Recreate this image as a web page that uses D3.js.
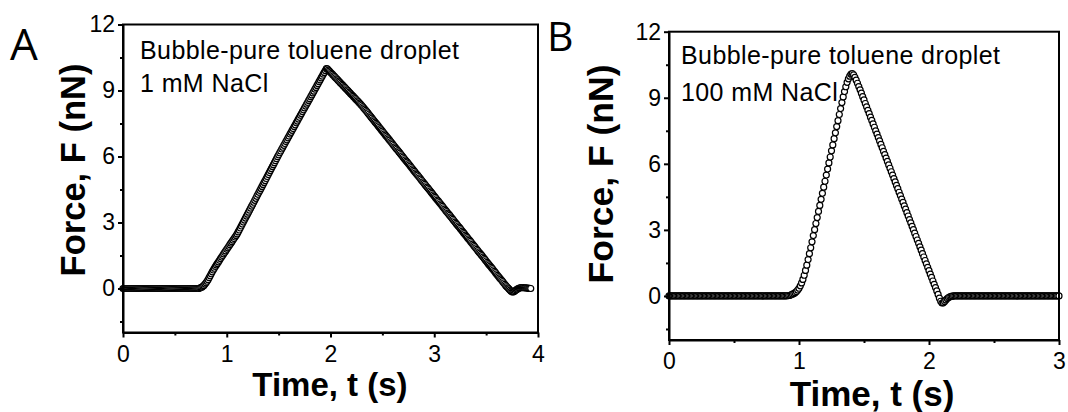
<!DOCTYPE html>
<html>
<head>
<meta charset="utf-8">
<script src="https://cdnjs.cloudflare.com/ajax/libs/d3/7.8.5/d3.min.js"></script>
<style>
    body { margin: 0; background: #fff; }
    svg { display: block; font-family: "Liberation Sans", Arial, sans-serif; }
</style>
</head>
<body>
<div id="chart"></div>
<script>
// force curves, one value per sample (sampling interval 0.01 s)
const sampleStep = 0.01;

const forceA = [
    0, 0, 0, 0, 0, 0, 0, 0, 0, 0,
    0, 0, 0, 0, 0, 0, 0, 0, 0, 0,
    0, 0, 0, 0, 0, 0, 0, 0, 0, 0,
    0, 0, 0, 0, 0, 0, 0, 0, 0, 0,
    0, 0, 0, 0, 0, 0, 0, 0, 0, 0,
    0, 0, 0, 0, 0, 0, 0, 0, 0, 0,
    0, 0, 0, 0, 0, 0, 0, 0, 0, 0,
    0, 0, 0, 0, 0.02, 0.04, 0.06, 0.10, 0.14, 0.20,
    0.26, 0.33, 0.40, 0.49, 0.58, 0.67, 0.76, 0.84, 0.92, 1.00,
    1.07, 1.14, 1.21, 1.28, 1.36, 1.43, 1.50, 1.57, 1.64, 1.71,
    1.78, 1.85, 1.92, 1.99, 2.06, 2.13, 2.20, 2.27, 2.34, 2.41,
    2.48, 2.57, 2.66, 2.75, 2.84, 2.93, 3.02, 3.11, 3.20, 3.29,
    3.38, 3.47, 3.56, 3.65, 3.74, 3.83, 3.92, 4.01, 4.10, 4.19,
    4.28, 4.37, 4.46, 4.55, 4.64, 4.73, 4.82, 4.91, 5.00, 5.09,
    5.18, 5.27, 5.36, 5.45, 5.54, 5.63, 5.72, 5.81, 5.90, 5.99,
    6.08, 6.17, 6.25, 6.34, 6.42, 6.51, 6.59, 6.68, 6.76, 6.85,
    6.93, 7.02, 7.10, 7.19, 7.27, 7.36, 7.44, 7.53, 7.61, 7.70,
    7.78, 7.87, 7.95, 8.04, 8.12, 8.21, 8.29, 8.38, 8.46, 8.55,
    8.63, 8.72, 8.80, 8.89, 8.97, 9.06, 9.14, 9.23, 9.31, 9.40,
    9.48, 9.57, 9.65, 9.74, 9.82, 9.91, 9.99, 9.98, 9.93, 9.88,
    9.83, 9.78, 9.73, 9.68, 9.63, 9.58, 9.53, 9.48, 9.43, 9.38,
    9.33, 9.28, 9.23, 9.18, 9.13, 9.08, 9.03, 8.98, 8.93, 8.88,
    8.83, 8.78, 8.73, 8.68, 8.63, 8.58, 8.53, 8.48, 8.43, 8.38,
    8.33, 8.27, 8.21, 8.15, 8.10, 8.04, 7.98, 7.92, 7.86, 7.80,
    7.74, 7.68, 7.62, 7.56, 7.51, 7.45, 7.39, 7.33, 7.27, 7.21,
    7.15, 7.09, 7.03, 6.97, 6.92, 6.86, 6.80, 6.74, 6.68, 6.62,
    6.56, 6.50, 6.44, 6.38, 6.33, 6.27, 6.21, 6.15, 6.09, 6.03,
    5.97, 5.91, 5.85, 5.79, 5.74, 5.68, 5.62, 5.56, 5.50, 5.44,
    5.38, 5.32, 5.26, 5.20, 5.15, 5.09, 5.03, 4.97, 4.91, 4.85,
    4.79, 4.73, 4.67, 4.61, 4.56, 4.50, 4.44, 4.38, 4.32, 4.26,
    4.20, 4.14, 4.08, 4.02, 3.97, 3.91, 3.85, 3.79, 3.73, 3.67,
    3.61, 3.55, 3.49, 3.43, 3.38, 3.32, 3.26, 3.20, 3.14, 3.08,
    3.02, 2.96, 2.90, 2.84, 2.79, 2.73, 2.67, 2.61, 2.55, 2.49,
    2.43, 2.37, 2.31, 2.25, 2.20, 2.14, 2.08, 2.02, 1.96, 1.90,
    1.84, 1.78, 1.72, 1.66, 1.61, 1.55, 1.49, 1.43, 1.37, 1.31,
    1.25, 1.19, 1.13, 1.07, 1.02, 0.96, 0.90, 0.84, 0.78, 0.72,
    0.66, 0.60, 0.54, 0.48, 0.43, 0.37, 0.31, 0.25, 0.19, 0.13,
    0.08, 0.03, -0.02, -0.07, -0.12, -0.15, -0.16, -0.14, -0.10, -0.06,
    -0.03, 0.00, 0.02, 0.03, 0.04, 0.04, 0.04, 0.03, 0.03, 0.02,
    0.02, 0.01, 0.01, 0.00
];

const forceB = [
    0, 0, 0, 0, 0, 0, 0, 0, 0, 0,
    0, 0, 0, 0, 0, 0, 0, 0, 0, 0,
    0, 0, 0, 0, 0, 0, 0, 0, 0, 0,
    0, 0, 0, 0, 0, 0, 0, 0, 0, 0,
    0, 0, 0, 0, 0, 0, 0, 0, 0, 0,
    0, 0, 0, 0, 0, 0, 0, 0, 0, 0,
    0, 0, 0, 0, 0, 0, 0, 0, 0, 0,
    0, 0, 0, 0, 0, 0, 0, 0, 0, 0,
    0, 0, 0, 0, 0, 0, 0, 0, 0, 0,
    0, 0.01, 0.02, 0.03, 0.05, 0.08, 0.11, 0.15, 0.20, 0.27,
    0.35, 0.46, 0.59, 0.75, 0.94, 1.16, 1.40, 1.65, 1.92, 2.19,
    2.46, 2.74, 3.01, 3.29, 3.56, 3.84, 4.11, 4.39, 4.66, 4.94,
    5.21, 5.49, 5.76, 6.04, 6.31, 6.59, 6.86, 7.14, 7.41, 7.69,
    7.96, 8.24, 8.51, 8.78, 9.04, 9.28, 9.50, 9.70, 9.86, 9.98,
    10.07, 10.10, 10.04, 9.93, 9.80, 9.66, 9.51, 9.36, 9.21, 9.05,
    8.90, 8.74, 8.59, 8.43, 8.28, 8.12, 7.97, 7.81, 7.66, 7.50,
    7.35, 7.19, 7.04, 6.88, 6.73, 6.57, 6.42, 6.26, 6.11, 5.95,
    5.80, 5.64, 5.49, 5.33, 5.18, 5.02, 4.87, 4.71, 4.56, 4.40,
    4.25, 4.09, 3.94, 3.78, 3.63, 3.47, 3.32, 3.16, 3.01, 2.85,
    2.70, 2.54, 2.39, 2.23, 2.08, 1.92, 1.77, 1.61, 1.46, 1.30,
    1.15, 0.99, 0.84, 0.68, 0.53, 0.38, 0.23, 0.07, -0.10, -0.24,
    -0.32, -0.31, -0.25, -0.18, -0.12, -0.07, -0.04, -0.02, -0.01, 0,
    0, 0, 0, 0, 0, 0, 0, 0, 0, 0,
    0, 0, 0, 0, 0, 0, 0, 0, 0, 0,
    0, 0, 0, 0, 0, 0, 0, 0, 0, 0,
    0, 0, 0, 0, 0, 0, 0, 0, 0, 0,
    0, 0, 0, 0, 0, 0, 0, 0, 0, 0,
    0, 0, 0, 0, 0, 0, 0, 0, 0, 0,
    0, 0, 0, 0, 0, 0, 0, 0, 0, 0,
    0, 0, 0, 0, 0, 0, 0, 0, 0, 0,
    0
];

const yTicks = [0, 3, 6, 9, 12];
const yMinorTicks = [-1.5, 1.5, 4.5, 7.5, 10.5];
const xTicksA = [0, 1, 2, 3, 4];
const xMinorTicksA = [0.5, 1.5, 2.5, 3.5];
const xTicksB = [0, 1, 2, 3];
const xMinorTicksB = [0.5, 1.5, 2.5];
const noteA = ['Bubble-pure toluene droplet', '1 mM NaCl'];
const noteB = ['Bubble-pure toluene droplet', '100 mM NaCl'];

const svg = d3.select('#chart').append('svg')
    .attr('width', 1068)
    .attr('height', 412);

function drawPanel(params) {
    const { letter, letterPos, letterSize, data, xDomain, xTicks, xMinorTicks, box,
        note, notePos, xTitlePos, xTitleSize, yTitlePos, yTitleSize } = params;

    const x = d3.scaleLinear().domain(xDomain).range([box.left, box.right]);
    const y = d3.scaleLinear().domain([-2, 12]).range([box.bottom, box.top]);

    const g = svg.append('g');

    // data points: open circles, dense enough to merge into a band
    g.append('g').selectAll('circle')
        .data(data)
        .enter().append('circle')
        .attr('cx', (d, i) => x(i * sampleStep))
        .attr('cy', d => y(d))
        .attr('r', 3)
        .attr('fill', '#fff')
        .attr('stroke', '#000')
        .attr('stroke-width', 1.2);

    // frame
    g.append('rect')
        .attr('x', box.left)
        .attr('y', box.top)
        .attr('width', box.right - box.left)
        .attr('height', box.bottom - box.top)
        .attr('fill', 'none')
        .attr('stroke', '#000')
        .attr('stroke-width', 2);

    // axes
    const yAxis = g.append('g')
        .attr('transform', `translate(${box.left},0)`)
        .call(d3.axisLeft(y).tickValues(yTicks).tickSize(5).tickSizeOuter(0).tickPadding(3));
    const yMinor = g.append('g')
        .attr('transform', `translate(${box.left},0)`)
        .call(d3.axisLeft(y).tickValues(yMinorTicks).tickSize(3).tickFormat(''));
    const xAxis = g.append('g')
        .attr('transform', `translate(0,${box.bottom})`)
        .call(d3.axisBottom(x).tickValues(xTicks).tickSize(5).tickSizeOuter(0).tickPadding(8).tickFormat(d3.format('d')));
    const xMinor = g.append('g')
        .attr('transform', `translate(0,${box.bottom})`)
        .call(d3.axisBottom(x).tickValues(xMinorTicks).tickSize(3).tickFormat(''));

    yMinor.select('.domain').remove();
    xMinor.select('.domain').remove();
    [yAxis, yMinor, xAxis, xMinor].forEach(a => {
        a.attr('font-family', null).attr('font-size', null);
        a.selectAll('path, line').attr('stroke', '#000').attr('stroke-width', 2);
        a.selectAll('text').attr('fill', '#000').style('font-size', '23px');
    });

    // axis titles
    g.append('text')
        .attr('x', xTitlePos[0])
        .attr('y', xTitlePos[1])
        .attr('text-anchor', 'middle')
        .style('font-weight', 'bold')
        .style('font-size', `${xTitleSize}px`)
        .text('Time, t (s)');

    g.append('text')
        .attr('transform', `translate(${yTitlePos[0]},${yTitlePos[1]}) rotate(-90)`)
        .attr('text-anchor', 'middle')
        .style('font-weight', 'bold')
        .style('font-size', `${yTitleSize}px`)
        .text('Force, F (nN)');

    // note inside the plot
    note.forEach((line, i) => {
        g.append('text')
            .attr('x', notePos[0])
            .attr('y', notePos[1] + i * notePos[2])
            .style('font-size', '25px')
            .style('letter-spacing', '0.4px')
            .text(line);
    });

    // panel letter
    g.append('text')
        .attr('x', letterPos[0])
        .attr('y', letterPos[1])
        .style('font-family', '"Open Sans", sans-serif')
        .style('font-size', `${letterSize}px`)
        .text(letter);
}

drawPanel({
    letter: 'A',
    letterPos: [10, 60],
    letterSize: 44,
    data: forceA,
    xDomain: [0, 4],
    xTicks: xTicksA,
    xMinorTicks: xMinorTicksA,
    box: { left: 123, right: 538, top: 24.5, bottom: 332.5 },
    note: noteA,
    notePos: [140, 58.5, 33],
    xTitlePos: [330, 396],
    xTitleSize: 33,
    yTitlePos: [85, 170],
    yTitleSize: 34.5,
});

drawPanel({
    letter: 'B',
    letterPos: [547, 51],
    letterSize: 41,
    data: forceB,
    xDomain: [0, 3],
    xTicks: xTicksB,
    xMinorTicks: xMinorTicksB,
    box: { left: 669, right: 1059, top: 31.7, bottom: 340 },
    note: noteB,
    notePos: [681, 63.5, 37],
    xTitlePos: [872, 406],
    xTitleSize: 35,
    yTitlePos: [613, 174],
    yTitleSize: 35.5,
});
</script>
</body>
</html>
